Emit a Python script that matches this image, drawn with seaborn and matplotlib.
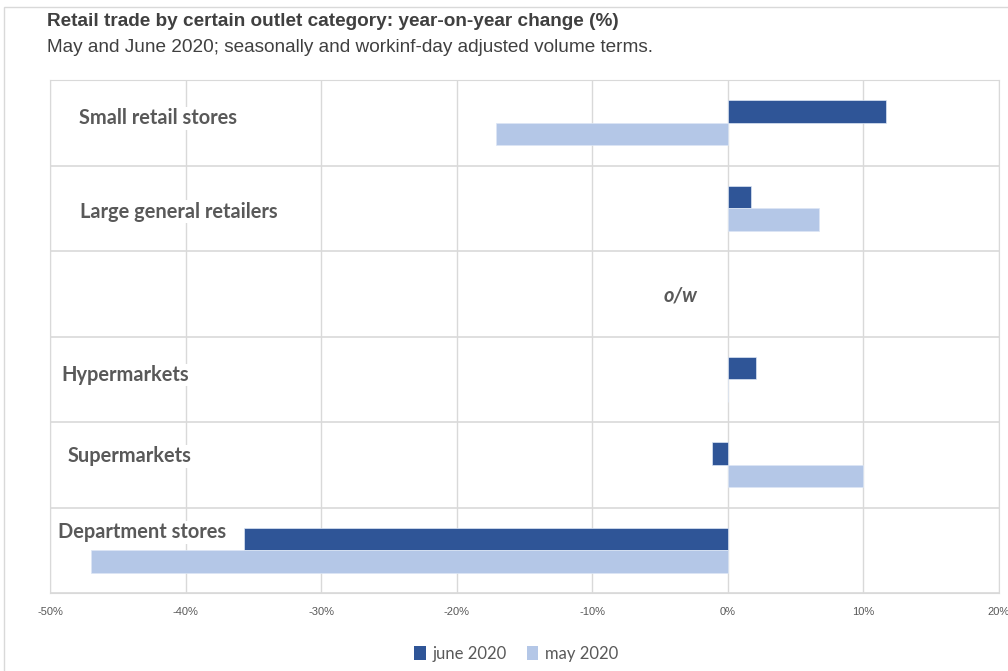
import pandas as pd
import seaborn as sns
import matplotlib.pyplot as plt
from matplotlib.patches import Rectangle, Patch
from matplotlib.transforms import blended_transform_factory

# Chart data (year-on-year change, %)
categories = ["Small retail stores", "Large general retailers", "o/w",
              "Hypermarkets", "Supermarkets", "Department stores"]
june_2020 = [11.7, 1.7, None, 2.1, -1.2, -35.7]
may_2020 = [-17.1, 6.7, None, 0.0, 10.0, -47.0]
series_names = ["june 2020", "may 2020"]
x_ticks = [-50, -40, -30, -20, -10, 0, 10, 20]

title = "Retail trade by certain outlet category: year-on-year change (%)"
subtitle = "May and June 2020; seasonally and workinf-day adjusted volume terms."

# Long-form table for seaborn
rows = []
for cat, j, m in zip(categories, june_2020, may_2020):
    if j is not None:
        rows.append({"category": cat, "period": series_names[0], "value": j})
    if m is not None:
        rows.append({"category": cat, "period": series_names[1], "value": m})
df = pd.DataFrame(rows)

colors = {"june 2020": "#2F5597", "may 2020": "#B4C7E7"}
grid_color = "#D9D9D9"
text_color = "#595959"

sns.set_style("white")
plt.rcParams["font.family"] = ["Liberation Sans", "DejaVu Sans"]

fig = plt.figure(figsize=(10.08, 6.71), dpi=100)
ax = fig.add_axes([50 / 1008, 1 - 593 / 671, 949 / 1008, 513 / 671])

sns.barplot(data=df, y="category", x="value", hue="period", order=categories,
            hue_order=series_names, palette=colors, orient="h", width=0.53,
            saturation=1, edgecolor="#DCE6F5", linewidth=0.5, legend=False, ax=ax)

ax.set_xlim(-50, 20)
ax.set_ylim(5.5, -0.5)
ax.set_xticks(x_ticks)
ax.set_xticklabels([f"{t}%" for t in x_ticks], fontsize=8, color=text_color)
ax.tick_params(axis="x", length=0, pad=10)
ax.set_yticks([])
ax.set_xlabel("")
ax.set_ylabel("")

# Grid: vertical lines at x ticks, horizontal lines between categories
ax.set_axisbelow(True)
for t in x_ticks:
    ax.axvline(t, color=grid_color, lw=1, zorder=0)
for b in [i + 0.5 for i in range(-1, len(categories))]:
    ax.axhline(b, color=grid_color, lw=1.2, zorder=0)
for s in ax.spines.values():
    s.set_color(grid_color)

# Category labels written inside the plot area
label_style = [  # (px from left edge, y offset in category units)
    (29, -0.05), (30, 0.04), (614, 0.02), (11, -0.05), (18, -0.1), (8, -0.21)]
trans = blended_transform_factory(ax.transAxes, ax.transData)
for i, (cat, (dx, dy)) in enumerate(zip(categories, label_style)):
    italic = cat == "o/w"
    ax.text(dx / 949, i + dy, cat, transform=trans, ha="left", va="center",
            fontsize=14.4, fontweight="bold", color=text_color,
            style="italic" if italic else "normal",
            family=["Lato", "DejaVu Sans"], zorder=3,
            bbox=dict(facecolor="white", edgecolor="none", pad=1))

# Titles
fig.text(47 / 1008, 1 - 21 / 671, title, fontsize=13.7, fontweight="bold",
         color="#404040", ha="left", va="center")
fig.text(47 / 1008, 1 - 47 / 671, subtitle, fontsize=13.7,
         color="#404040", ha="left", va="center")

# Legend
handles = [Patch(facecolor=colors[n], edgecolor="none") for n in series_names]
fig.legend(handles, series_names, loc="center", bbox_to_anchor=(0.512, 1 - 654 / 671),
           ncol=2, frameon=False, handlelength=0.7, handleheight=0.9,
           handletextpad=0.4, columnspacing=1.2,
           prop={"family": ["Lato", "DejaVu Sans"], "size": 12},
           labelcolor=text_color)

# Outer chart border
fig.patches.append(Rectangle((4 / 1008, -0.05), 1.1, 1 - 7 / 671 + 0.05,
                             transform=fig.transFigure, fill=False,
                             edgecolor=grid_color, lw=1))

fig.savefig("out.png", dpi=100, facecolor="white")
